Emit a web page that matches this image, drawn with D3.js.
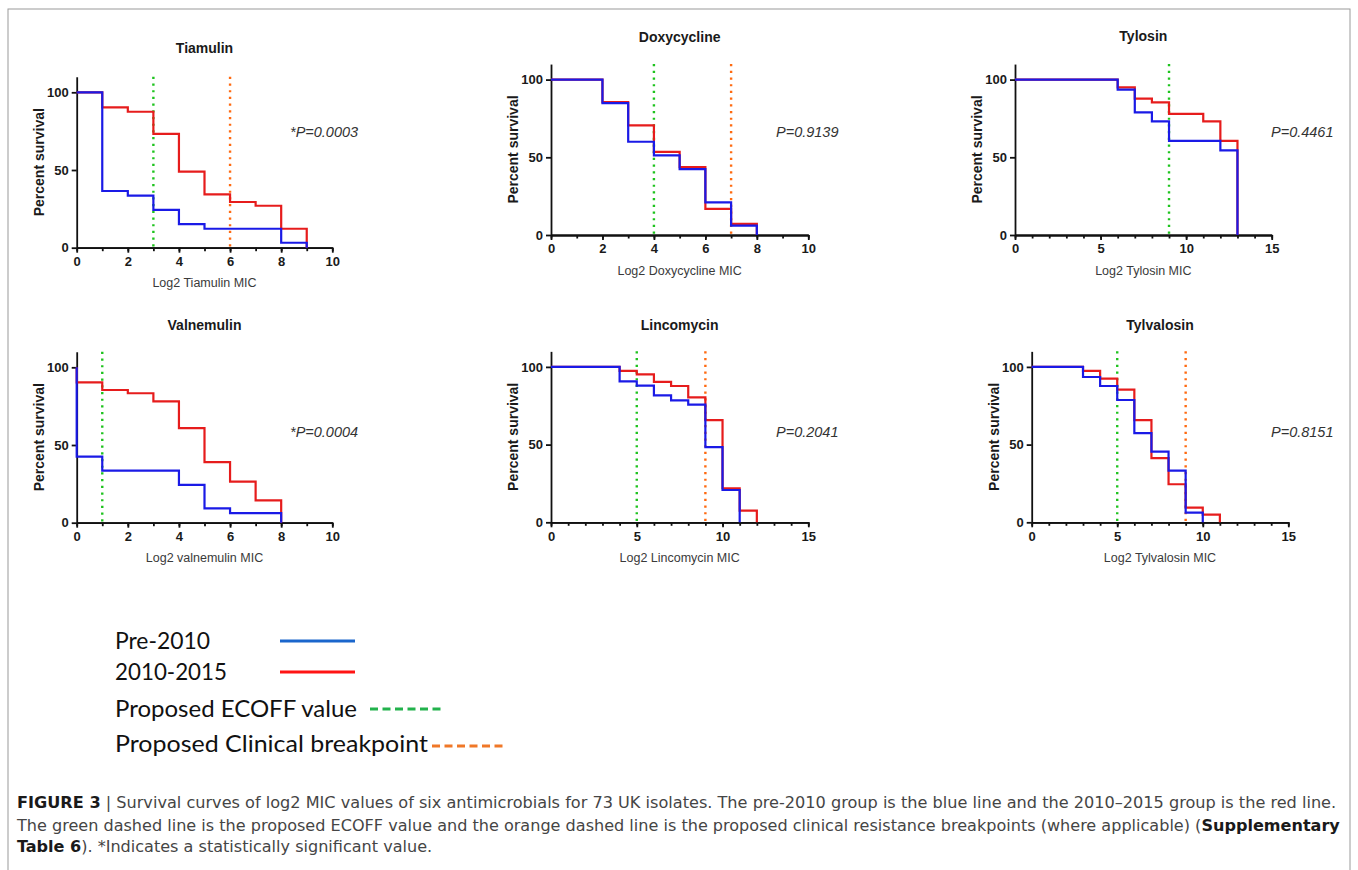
<!DOCTYPE html>
<html lang="en">
<head>
<meta charset="UTF-8">
<title>Figure 3</title>
<script src="https://cdn.jsdelivr.net/npm/d3@7"></script>
<style>
    body { margin: 0; background: #fff; }
    svg { display: block; }
    .tick text { font-family: "Liberation Sans", Arial, sans-serif; font-weight: bold; font-size: 13px; fill: #1a1a1a; }
    .tick line, .domain { stroke: #111; stroke-width: 1.8px; }
</style>
</head>
<body>
<script>
// chart data
var drugs = ["Tiamulin", "Doxycycline", "Tylosin", "Valnemulin", "Lincomycin", "Tylvalosin"];
var xTitles = ["Log2 Tiamulin MIC", "Log2 Doxycycline MIC", "Log2 Tylosin MIC",
               "Log2 valnemulin MIC", "Log2 Lincomycin MIC", "Log2 Tylvalosin MIC"];
var pValues = ["*P=0.0003", "P=0.9139", "P=0.4461", "*P=0.0004", "P=0.2041", "P=0.8151"];
var xMax = [10, 10, 15, 10, 15, 15];
var xStep = [2, 2, 5, 2, 5, 5];
var yTicks = [0, 50, 100];
var ecoff = [3, 4, 9, 1, 5, 5];
var breakpoint = [6, 7, null, null, 9, 9];

// survival steps: [log2 MIC, percent survival]
var pre2010 = [
    [[0, 100], [1, 36.5], [2, 33.5], [3, 24.3], [4, 15.2], [5, 12.2], [8, 3.2], [9, 0]],
    [[0, 100], [2, 84.9], [3, 60], [4, 51.2], [5, 42.4], [6, 21], [7, 6], [8, 0]],
    [[0, 100], [6, 93.5], [7, 78.9], [8, 73.1], [9, 60.6], [12, 54.4], [13, 0]],
    [[0, 100], [0, 42.5], [1, 33.5], [4, 24.3], [5, 9.2], [6, 6.2], [8, 0]],
    [[0, 100], [4, 90.7], [5, 87.9], [6, 81.7], [7, 78.5], [8, 75.7], [9, 48.4], [10, 20.8], [11, 0]],
    [[0, 100], [3, 93.5], [4, 87.7], [5, 78.7], [6, 57.4], [7, 45.5], [8, 33.3], [9, 6.2], [10, 0]]
];
var y2010to2015 = [
    [[0, 100], [1, 90.3], [2, 87.5], [3, 73.2], [4, 48.9], [5, 34.3], [6, 29.4], [7, 27], [8, 12.2], [9, 0]],
    [[0, 100], [2, 85.5], [3, 70.5], [4, 53.5], [5, 43.7], [6, 16.8], [7, 7.1], [8, 0]],
    [[0, 100], [6, 95], [7, 87.7], [8, 85.4], [9, 78], [11, 73.1], [12, 60.6], [13, 0]],
    [[0, 100], [0, 90.3], [1, 85.4], [2, 83.3], [3, 78.1], [4, 60.9], [5, 39], [6, 26.4], [7, 14.4], [8, 0]],
    [[0, 100], [4, 97.4], [5, 95.2], [6, 90.3], [7, 87.7], [8, 80.4], [9, 65.8], [10, 21.9], [11, 7.5], [12, 0]],
    [[0, 100], [3, 97.4], [4, 92.5], [5, 85.4], [6, 65.8], [7, 41.3], [8, 24.5], [9, 9.4], [10, 4.9], [11, 0]]
];

var legendLabels = ["Pre-2010", "2010-2015", "Proposed ECOFF value", "Proposed Clinical breakpoint"];

var captionLines = [
    [["FIGURE 3", true], [" | Survival curves of log2 MIC values of six antimicrobials for 73 UK isolates. The pre-2010 group is the blue line and the 2010\u20132015 group is the red line.", false]],
    [["The green dashed line is the proposed ECOFF value and the orange dashed line is the proposed clinical resistance breakpoints (where applicable) (", false], ["Supplementary", true]],
    [["Table 6", true], ["). *Indicates a statistically significant value.", false]]
];

// panel placement on the page
var panels = [
    {left: 76.7, width: 255.6, bottom: 247.7, titleY: 53, pX: 290, pY: 137},
    {left: 551, width: 257.3, bottom: 235, titleY: 42, pX: 776, pY: 137},
    {left: 1015, width: 256.7, bottom: 235, titleY: 41, pX: 1271, pY: 137},
    {left: 76.7, width: 255.6, bottom: 522.7, titleY: 330, pX: 290, pY: 437},
    {left: 551, width: 257.3, bottom: 522.3, titleY: 330, pX: 776, pY: 437},
    {left: 1031.7, width: 256.6, bottom: 522.3, titleY: 330, pX: 1271, pY: 437}
];
var pxPerPct = 1.554;

var colBlue = "#1a1ae6", colRed = "#e61c1c", colGreen = "#1ec31e", colOrange = "#ff6a10";

var svg = d3.select("body").append("svg")
    .attr("width", 1358)
    .attr("height", 870);

svg.append("rect")
    .attr("x", 8).attr("y", 9)
    .attr("width", 1342).attr("height", 870)
    .attr("fill", "none")
    .attr("stroke", "#9a9a9a")
    .attr("stroke-width", 1);

drugs.forEach(function (name, i) {
    var p = panels[i];
    var x = d3.scaleLinear().domain([0, xMax[i]]).range([p.left, p.left + p.width]);
    var y = d3.scaleLinear().domain([0, 110]).range([p.bottom, p.bottom - 110 * pxPerPct]);
    var g = svg.append("g");

    // minor ticks every 1
    g.append("g")
        .attr("transform", "translate(0," + p.bottom + ")")
        .call(d3.axisBottom(x).tickValues(d3.range(0, xMax[i] + 1)).tickSize(3.5).tickSizeOuter(0).tickFormat(""));
    g.append("g")
        .attr("transform", "translate(0," + p.bottom + ")")
        .call(d3.axisBottom(x).tickValues(d3.range(0, xMax[i] + 1, xStep[i])).tickSize(5).tickSizeOuter(0).tickPadding(4));
    g.append("g")
        .attr("transform", "translate(" + p.left + ",0)")
        .call(d3.axisLeft(y).tickValues(yTicks).tickSize(5).tickSizeOuter(0).tickPadding(3));

    // reference lines
    var refs = [[ecoff[i], colGreen], [breakpoint[i], colOrange]];
    refs.forEach(function (r) {
        if (r[0] == null) return;
        g.append("line")
            .attr("x1", x(r[0])).attr("x2", x(r[0]))
            .attr("y1", y(110)).attr("y2", y(0))
            .attr("stroke", r[1])
            .attr("stroke-width", 2.4)
            .attr("stroke-dasharray", "2.2,4.5");
    });

    var line = d3.line()
        .x(function (d) { return x(d[0]); })
        .y(function (d) { return y(d[1]); })
        .curve(d3.curveStepAfter);

    g.append("path").attr("d", line(y2010to2015[i]))
        .attr("fill", "none").attr("stroke", colRed).attr("stroke-width", 2.2);
    g.append("path").attr("d", line(pre2010[i]))
        .attr("fill", "none").attr("stroke", colBlue).attr("stroke-width", 2.2);

    // titles and labels
    g.append("text")
        .attr("x", p.left + p.width / 2).attr("y", p.titleY)
        .attr("text-anchor", "middle")
        .style("font-family", "Liberation Sans, Arial, sans-serif")
        .style("font-weight", "bold").style("font-size", "14px").style("fill", "#1a1a1a")
        .text(name);
    g.append("text")
        .attr("x", p.left + p.width / 2).attr("y", p.bottom + 39.5)
        .attr("text-anchor", "middle")
        .style("font-family", "Liberation Sans, Arial, sans-serif")
        .style("font-size", "12.5px").style("fill", "#3a3a3a")
        .text(xTitles[i]);
    g.append("text")
        .attr("transform", "translate(" + (p.left - 33) + "," + y(55) + ") rotate(-90)")
        .attr("text-anchor", "middle")
        .style("font-family", "Liberation Sans, Arial, sans-serif")
        .style("font-weight", "bold").style("font-size", "14px").style("fill", "#1a1a1a")
        .text("Percent survival");
    g.append("text")
        .attr("x", p.pX).attr("y", p.pY)
        .style("font-family", "Liberation Sans, Arial, sans-serif")
        .style("font-style", "italic").style("font-size", "14.5px").style("fill", "#333")
        .text(pValues[i]);
});

// legend
var legendRows = [
    {y: 641, w: 95, color: "#1a66cc", dash: null, x1: 280, x2: 355},
    {y: 672, w: 112, color: "#ff1414", dash: null, x1: 280, x2: 355},
    {y: 709, w: 242, color: "#22b24c", dash: "8,4.5", x1: 370, x2: 445},
    {y: 744, w: 313, color: "#f07828", dash: "8,4.5", x1: 432, x2: 507}
];
legendLabels.forEach(function (label, i) {
    var r = legendRows[i];
    svg.append("text")
        .attr("x", 115).attr("y", r.y + 8)
        .attr("textLength", r.w)
        .attr("lengthAdjust", "spacingAndGlyphs")
        .style("font-family", "Lato, 'Open Sans', sans-serif")
        .style("font-size", "24px").style("fill", "#111")
        .text(label);
    svg.append("line")
        .attr("x1", r.x1).attr("x2", r.x2)
        .attr("y1", i == 3 ? r.y + 2 : r.y).attr("y2", i == 3 ? r.y + 2 : r.y)
        .attr("stroke", r.color)
        .attr("stroke-width", 3)
        .attr("stroke-dasharray", r.dash);
});

// caption
var capY = [808, 831, 852];
var capW = [1320, 1323, null];
var k = 1;
captionLines.forEach(function (parts, i) {
    var cg = svg.append("g");
    var t = cg.append("text")
        .attr("x", 0).attr("y", 0)
        .style("font-family", "'Liberation Sans Narrow', 'DejaVu Sans Condensed', sans-serif")
        .style("font-size", "15.5px").style("fill", "#454545");
    parts.forEach(function (pt) {
        t.append("tspan")
            .style("font-weight", pt[1] ? "bold" : "normal")
            .style("fill", pt[1] ? "#1a1a1a" : "#454545")
            .text(pt[0]);
    });
    var natural = t.node().getComputedTextLength();
    if (capW[i]) k = capW[i] / natural;
    cg.attr("transform", "translate(17," + capY[i] + ") scale(" + k + ",1)");
});
</script>
</body>
</html>
